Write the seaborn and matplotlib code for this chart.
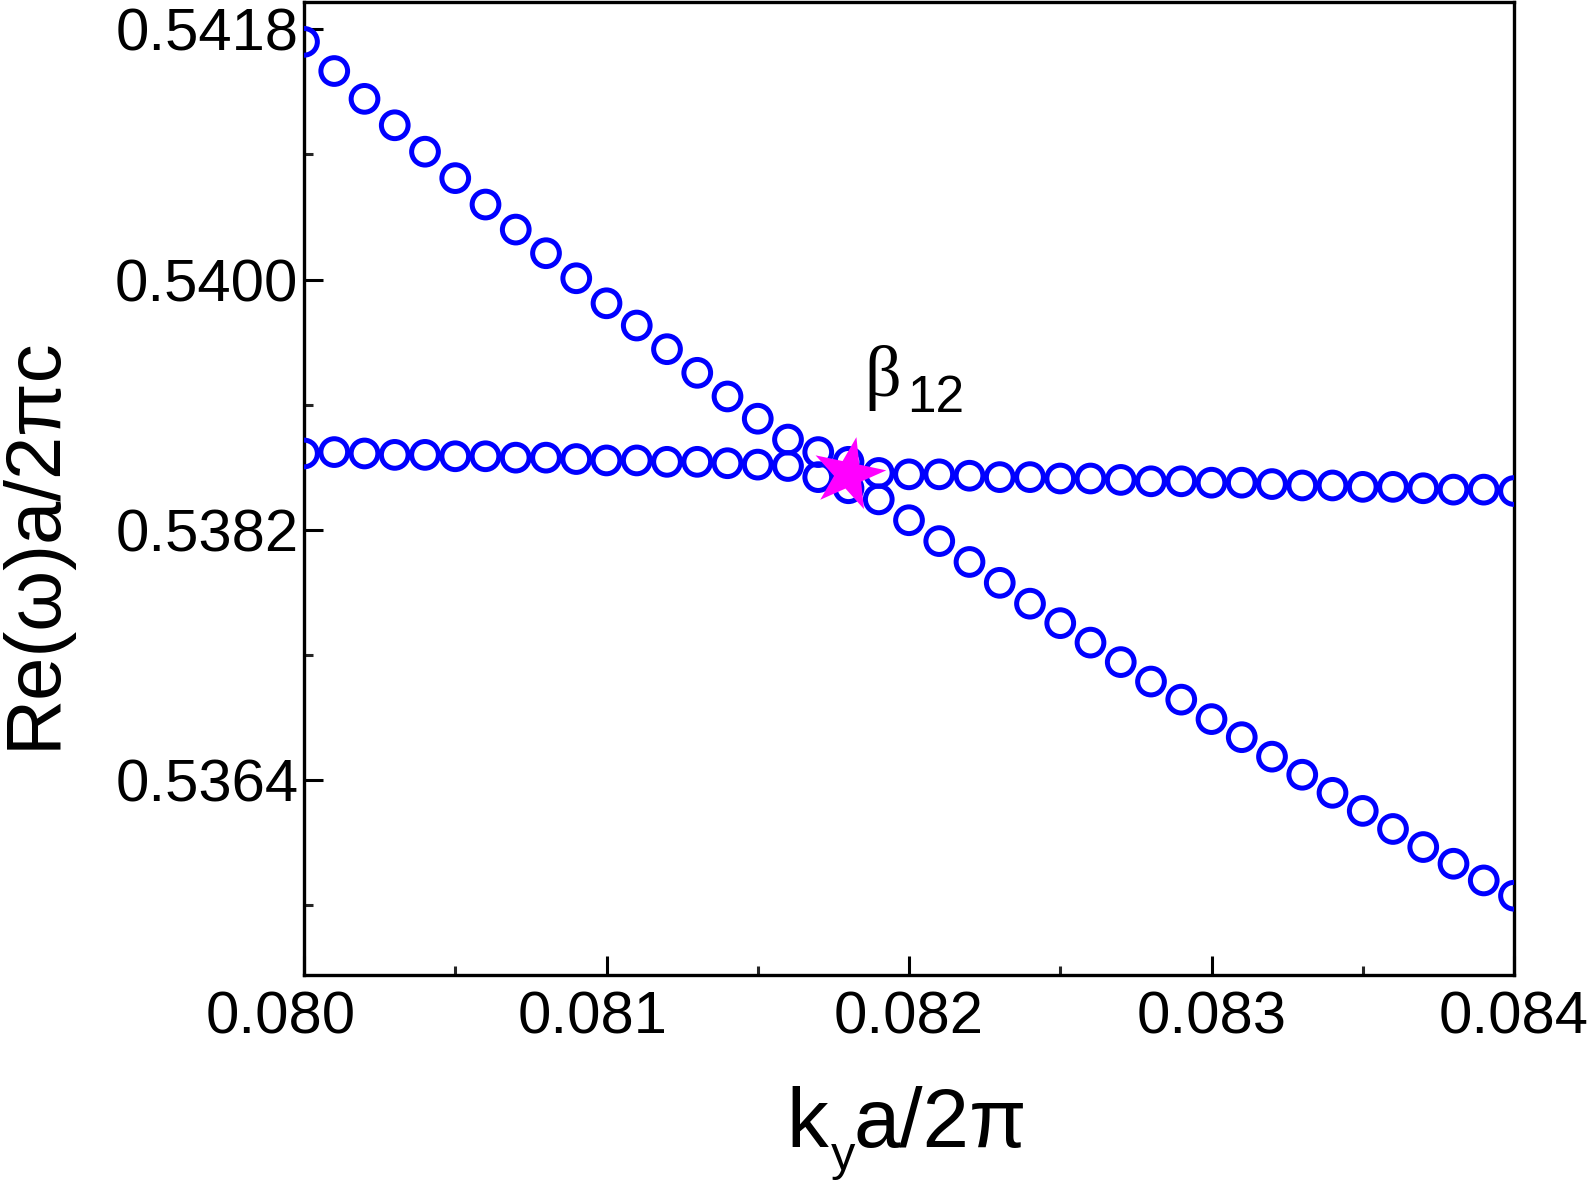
import numpy as np
import pandas as pd
import seaborn as sns
import matplotlib
matplotlib.use("Agg")
import matplotlib.pyplot as plt
from matplotlib.ticker import MultipleLocator, FormatStrFormatter
from matplotlib.markers import MarkerStyle
from matplotlib.transforms import Affine2D, ScaledTranslation

# ---------------- data ----------------
ky = [0.0800, 0.0801, 0.0802, 0.0803, 0.0804, 0.0805, 0.0806, 0.0807, 0.0808, 0.0809,
      0.0810, 0.0811, 0.0812, 0.0813, 0.0814, 0.0815, 0.0816, 0.0817, 0.0818, 0.0819,
      0.0820, 0.0821, 0.0822, 0.0823, 0.0824, 0.0825, 0.0826, 0.0827, 0.0828, 0.0829,
      0.0830, 0.0831, 0.0832, 0.0833, 0.0834, 0.0835, 0.0836, 0.0837, 0.0838, 0.0839,
      0.0840]

band_upper = [0.54171, 0.54150, 0.54130, 0.54111, 0.54092, 0.54073, 0.54054, 0.54036,
              0.54019, 0.54001, 0.53983, 0.53967, 0.53950, 0.53933, 0.53916, 0.53900,
              0.53885, 0.53876, 0.53869, 0.53861, 0.53860, 0.53860, 0.53859, 0.53858,
              0.53858, 0.53857, 0.53857, 0.53856, 0.53855, 0.53855, 0.53854, 0.53854,
              0.53853, 0.53852, 0.53852, 0.53851, 0.53851, 0.53850, 0.53849, 0.53849,
              0.53848]

band_lower = [0.53875, 0.53876, 0.53875, 0.53874, 0.53874, 0.53873, 0.53873, 0.53872,
              0.53872, 0.53871, 0.53870, 0.53870, 0.53869, 0.53869, 0.53868, 0.53867,
              0.53866, 0.53858, 0.53850, 0.53842, 0.53827, 0.53812, 0.53797, 0.53782,
              0.53767, 0.53753, 0.53739, 0.53725, 0.53711, 0.53698, 0.53684, 0.53671,
              0.53657, 0.53644, 0.53631, 0.53618, 0.53605, 0.53592, 0.53580, 0.53568,
              0.53557]

ep_x = [0.08180]
ep_y = [0.53860]
ep_label = "β"
ep_sub = "12"

xticks = [0.080, 0.081, 0.082, 0.083, 0.084]
yticks = [0.5364, 0.5382, 0.5400, 0.5418]
yticks_minor = [0.5355, 0.5373, 0.5391, 0.5409]

xlabel_parts = ["k", "y", "a/2π"]   # k_y a/2π
ylabel = "Re(ω)a/2πc"

# ---------------- style ----------------
sns.set_theme(style="white")
plt.rcParams['font.family'] = ['Liberation Sans', 'DejaVu Sans']

fig = plt.figure(figsize=(15.87, 11.85), dpi=100)
ax = fig.add_axes([304/1587, 1 - 975/1185, (1514-304)/1587, (975-1.5)/1185])

df = pd.DataFrame({
    "ky": ky * 2,
    "freq": band_upper + band_lower,
    "band": ["upper"] * len(ky) + ["lower"] * len(ky),
})

sns.scatterplot(data=df, x="ky", y="freq", ax=ax, marker="o", s=370,
                facecolors="none", edgecolors="#0000ff", linewidth=3.6,
                legend=False, zorder=3)
for coll in ax.collections:
    coll.set_facecolor("none")
    coll.set_edgecolor("#0000ff")

star = MarkerStyle("*", transform=Affine2D().rotate_deg(-12))
sns.scatterplot(x=ep_x, y=ep_y, ax=ax, marker=star, s=3000,
                color="#ff00ff", edgecolor="none", linewidth=0,
                legend=False, zorder=5)

ax.text(0.081852, 0.539162, ep_label, fontsize=52, family='Liberation Serif',
        color='black', ha='left', va='baseline')
ax.text(0.081995, 0.539047, ep_sub, fontsize=37, family='Liberation Sans',
        color='black', ha='left', va='baseline')

ax.set_xlim(0.080, 0.084)
ax.set_ylim(0.5350, 0.5420)

ax.set_xticks(xticks)
ax.xaxis.set_minor_locator(MultipleLocator(0.0005))
ax.xaxis.set_major_formatter(FormatStrFormatter('%.3f'))
ax.set_yticks(yticks)
ax.set_yticks(yticks_minor, minor=True)
ax.yaxis.set_major_formatter(FormatStrFormatter('%.4f'))

ax.tick_params(axis='both', which='major', direction='in', length=13.5, width=2.2,
               labelsize=43, colors='black', bottom=True, left=True, top=False, right=False)
ax.tick_params(axis='both', which='minor', direction='in', length=6.5, width=2.2,
               bottom=True, left=True, top=False, right=False)
ax.tick_params(axis='x', which='major', pad=11.5)
ax.tick_params(axis='y', which='major', pad=4)

for sp in ax.spines.values():
    sp.set_visible(True)
    sp.set_color('black')
    sp.set_linewidth(2.4)

# x label: k with a deeply dropped subscript y, then a/2π
ax.set_xlabel("")
ax.text(0.3983, -0.1767, xlabel_parts[0], transform=ax.transAxes, fontsize=60,
        ha='left', va='baseline', color='black')
ax.text(0.4355, -0.2003, xlabel_parts[1], transform=ax.transAxes, fontsize=35,
        ha='left', va='baseline', color='black')
ax.text(0.4545, -0.1767, xlabel_parts[2], transform=ax.transAxes, fontsize=60,
        ha='left', va='baseline', color='black')

ax.set_ylabel(ylabel, fontsize=56, color='black')
ax.yaxis.set_label_coords(-0.193, 0.444)

# the first two x tick labels sit a bit left of their ticks in the reference
label_shift_px = {0: -23, 1: -14}
for i, tick in enumerate(ax.xaxis.get_major_ticks()):
    if i in label_shift_px:
        lab = tick.label1
        lab.set_transform(lab.get_transform() +
                          ScaledTranslation(label_shift_px[i] / 100, 0, fig.dpi_scale_trans))

ax.grid(False)
ax.set_facecolor('white')
fig.patch.set_facecolor('white')

fig.savefig("out.png", dpi=100, facecolor='white')
